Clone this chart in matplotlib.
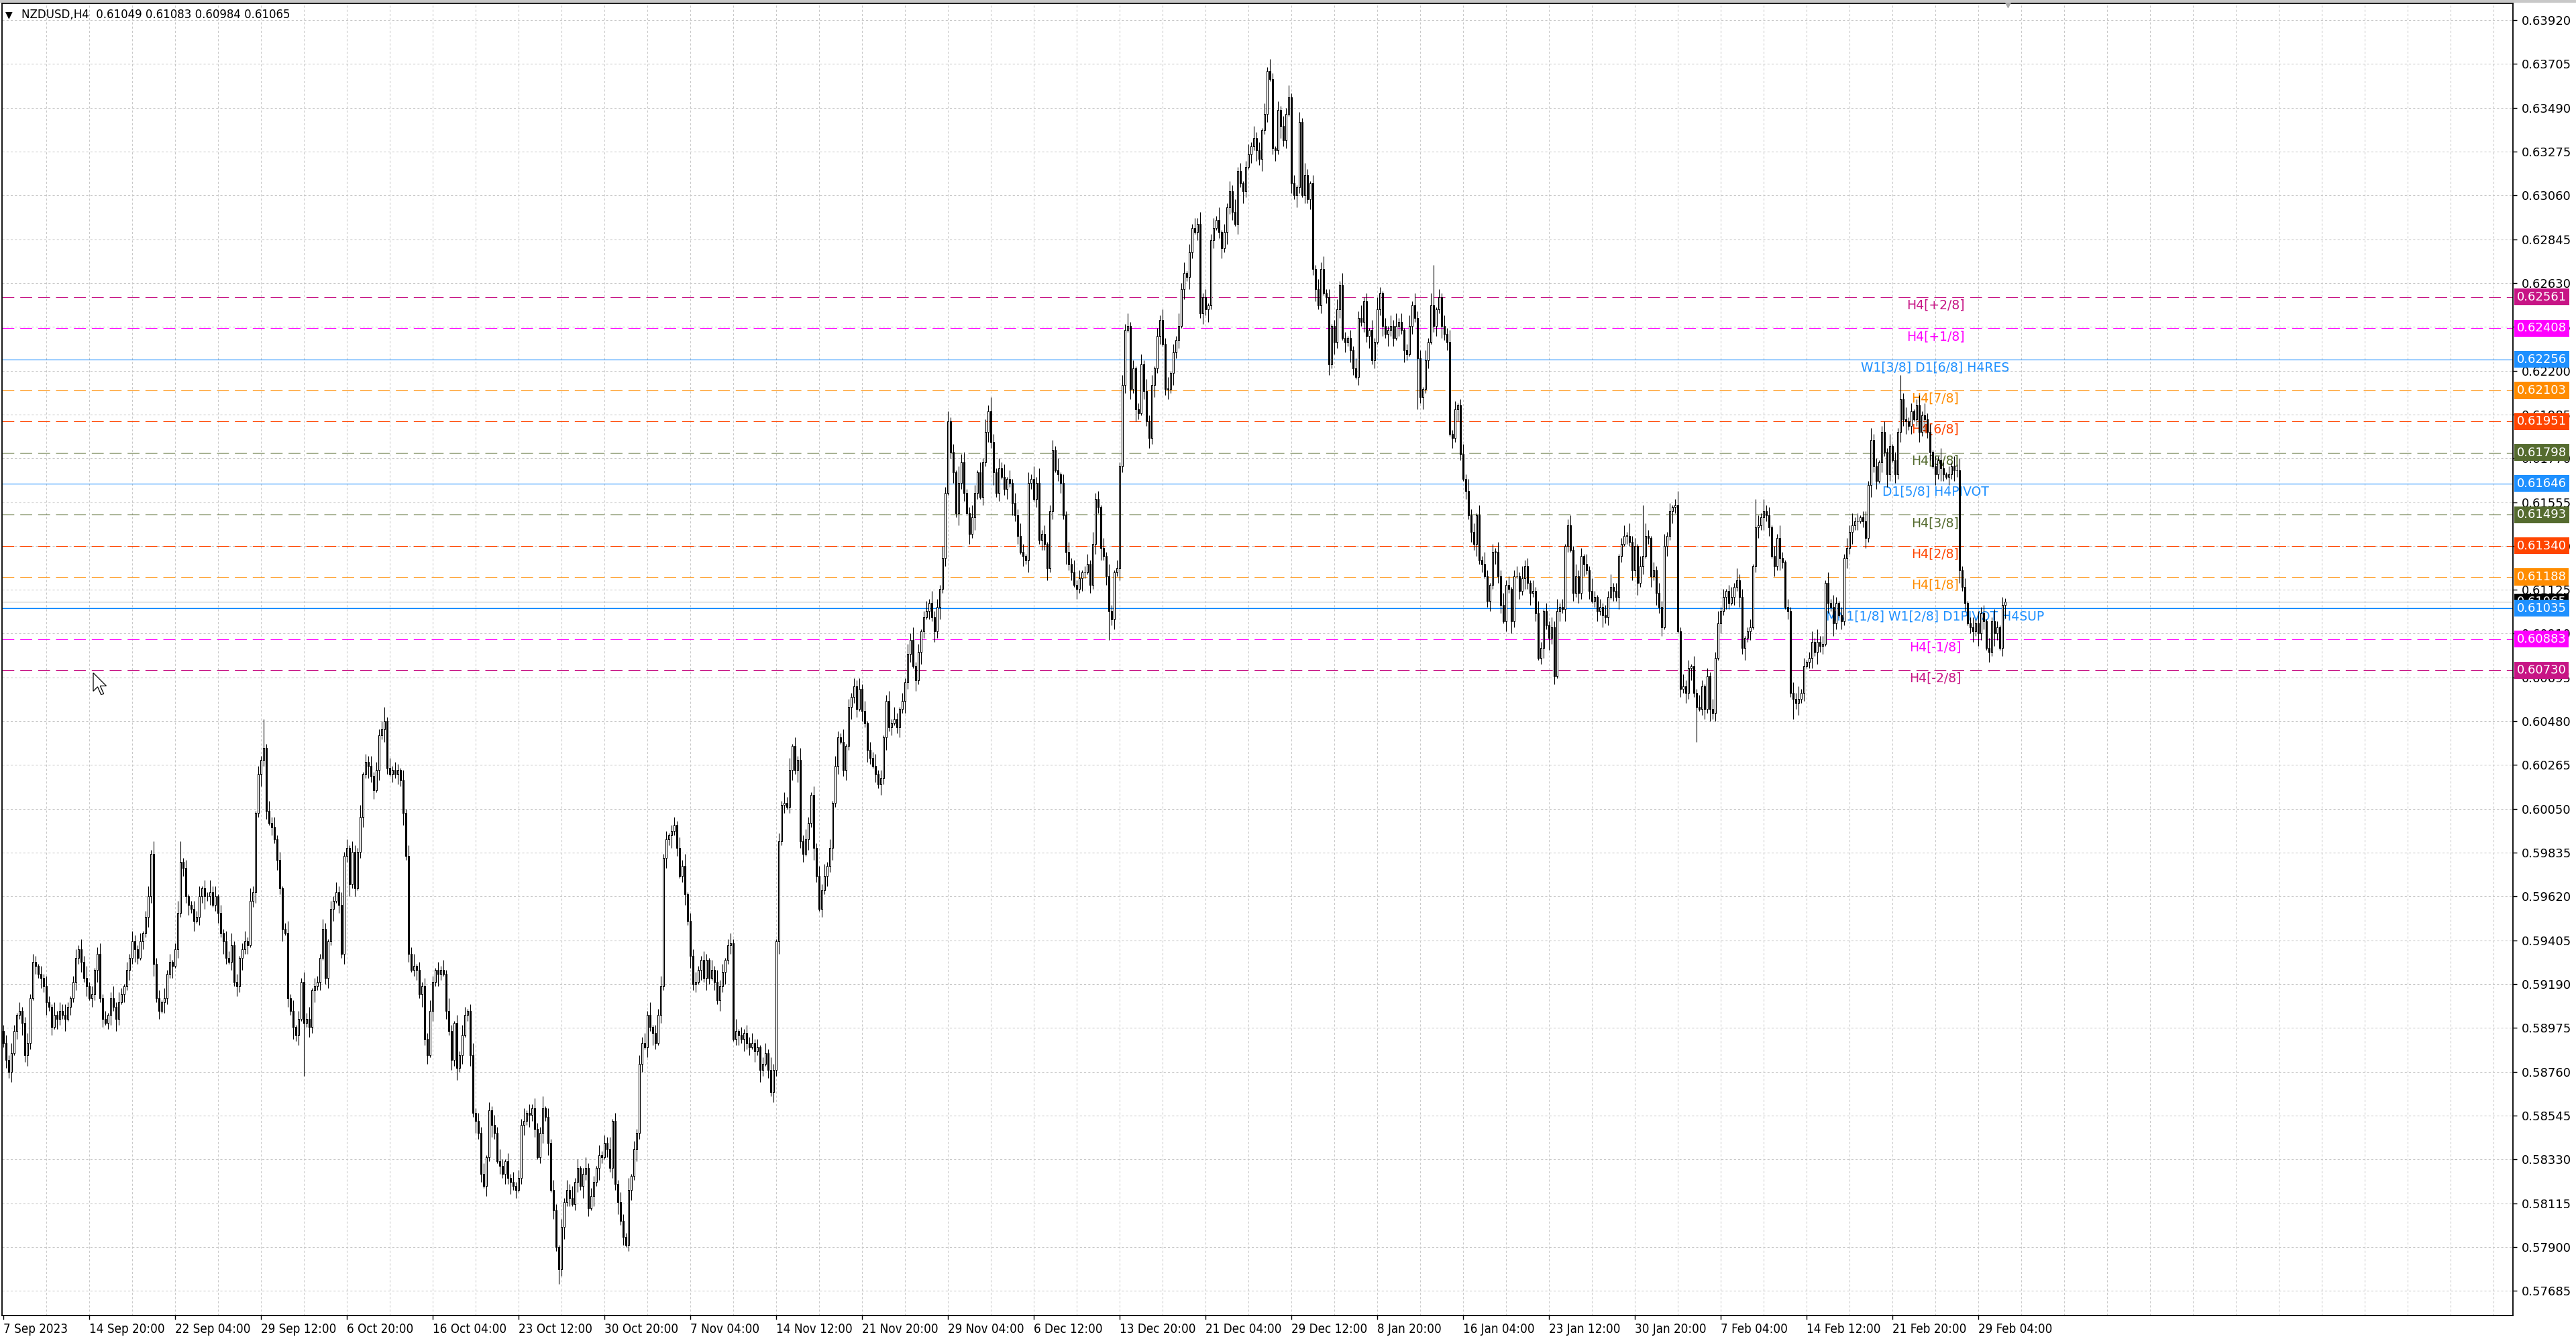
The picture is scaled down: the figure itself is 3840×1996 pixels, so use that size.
import matplotlib
matplotlib.use("Agg")
import matplotlib.pyplot as plt
import numpy as np
from matplotlib.patches import Rectangle, Polygon

# ---- data (closes in pips: 5890 -> 0.5890) ----
SYMBOL = "NZDUSD,H4"
FIRST_OPEN = 0.5896
LAST_BAR = (0.61049, 0.61083, 0.60984, 0.61065)  # O H L C of the live bar

CLOSE_PIPS = [
    5890, 5882, 5876, 5885, 5896, 5904, 5906, 5900, 5884, 5890,
    5912, 5930, 5928, 5924, 5922, 5918, 5910, 5908, 5898, 5904,
    5902, 5906, 5904, 5902, 5908, 5912, 5920, 5932, 5936, 5930,
    5922, 5918, 5912, 5914, 5926, 5934, 5912, 5902, 5900, 5904,
    5912, 5908, 5902, 5910, 5914, 5918, 5926, 5932, 5940, 5936,
    5932, 5940, 5944, 5952, 5962, 5983, 5929, 5912, 5906, 5910,
    5912, 5924, 5930, 5928, 5936, 5954, 5979, 5976, 5962, 5958,
    5956, 5950, 5952, 5962, 5966, 5962, 5962, 5964, 5958, 5962,
    5954, 5944, 5940, 5932, 5930, 5938, 5920, 5918, 5932, 5936,
    5940, 5938, 5960, 5964, 6003, 6022, 6029, 6035, 6004, 5998,
    5996, 5990, 5980, 5966, 5946, 5944, 5912, 5906, 5898, 5894,
    5902, 5920, 5900, 5902, 5898, 5916, 5918, 5920, 5932, 5946,
    5922, 5940, 5956, 5960, 5964, 5958, 5934, 5982, 5986, 5968,
    5984, 5966, 5984, 6001, 6022, 6028, 6026, 6021, 6014, 6024,
    6041, 6044, 6048, 6025, 6022, 6024, 6022, 6024, 6019, 6003,
    5982, 5934, 5926, 5928, 5926, 5914, 5918, 5892, 5884, 5906,
    5920, 5926, 5924, 5926, 5924, 5906, 5896, 5882, 5900, 5878,
    5884, 5894, 5904, 5906, 5884, 5856, 5852, 5846, 5826, 5820,
    5834, 5857, 5850, 5846, 5832, 5830, 5826, 5832, 5824, 5822,
    5820, 5818, 5824, 5850, 5852, 5856, 5855, 5858, 5848, 5834,
    5846, 5858, 5854, 5841, 5818, 5808, 5790, 5779, 5800, 5812,
    5818, 5814, 5811, 5822, 5829, 5820, 5826, 5829, 5809, 5815,
    5822, 5829, 5835, 5834, 5841, 5838, 5829, 5852, 5821, 5812,
    5803, 5795, 5791, 5818, 5825, 5838, 5846, 5880, 5890, 5888,
    5904, 5898, 5895, 5890, 5904, 5918, 5981, 5990, 5992, 5994,
    5997, 5986, 5972, 5977, 5963, 5950, 5933, 5919, 5920, 5926,
    5931, 5922, 5931, 5922, 5926, 5920, 5911, 5918, 5925, 5931,
    5938, 5939, 5892, 5896, 5894, 5892, 5895, 5890, 5888, 5890,
    5886, 5888, 5877, 5880, 5885, 5877, 5866, 5877, 5940, 5989,
    6007, 6008, 6006, 6024, 6036, 6024, 6029, 5989, 5983, 5990,
    5998, 6012, 5986, 5972, 5956, 5965, 5972, 5977, 5986, 6008,
    6026, 6040, 6038, 6024, 6036, 6055, 6060, 6065, 6054, 6064,
    6053, 6047, 6034, 6030, 6026, 6022, 6017, 6020, 6040, 6058,
    6045, 6047, 6049, 6045, 6054, 6058, 6067, 6081, 6088, 6075,
    6068, 6082, 6092, 6099, 6102, 6106, 6099, 6092, 6104, 6113,
    6128, 6160, 6195, 6180, 6170, 6150, 6165, 6175, 6160, 6150,
    6140, 6148, 6160, 6170, 6158, 6175, 6190, 6200, 6185, 6170,
    6160, 6172, 6168, 6162, 6167, 6165, 6155, 6149, 6139, 6131,
    6129, 6127, 6165, 6167, 6157, 6165, 6137, 6140, 6135, 6123,
    6151, 6181, 6171, 6169, 6165, 6149, 6131, 6125, 6121, 6115,
    6113, 6118, 6121, 6121, 6125, 6115, 6135, 6157, 6153, 6133,
    6129, 6119, 6102, 6098, 6121, 6123, 6173, 6213, 6240, 6242,
    6211, 6221, 6201, 6199, 6223, 6210, 6195, 6187, 6213, 6221,
    6237, 6245, 6233, 6211, 6211, 6219, 6229, 6235, 6242, 6260,
    6268, 6266, 6278, 6290, 6288, 6292, 6248, 6256, 6250, 6252,
    6284, 6290, 6294, 6288, 6280, 6288, 6300, 6308, 6298, 6292,
    6318, 6312, 6308, 6320, 6326, 6330, 6334, 6328, 6324, 6338,
    6346, 6367, 6363, 6329, 6328, 6348, 6340, 6333, 6346, 6354,
    6312, 6306, 6310, 6342, 6306, 6316, 6304, 6312, 6270, 6260,
    6252, 6270, 6258, 6256, 6223, 6242, 6234, 6250, 6262, 6236,
    6234, 6236, 6230, 6221, 6217, 6246, 6244, 6254, 6237, 6240,
    6225, 6234, 6250, 6258, 6242, 6238, 6240, 6242, 6236, 6242,
    6244, 6240, 6230, 6228, 6242, 6252, 6246, 6226, 6207, 6211,
    6225, 6234, 6252, 6242, 6250, 6256, 6242, 6238, 6234, 6189,
    6187, 6201, 6203, 6179, 6167, 6161, 6149, 6141, 6135, 6149,
    6127, 6125, 6119, 6107, 6115, 6131, 6131, 6119, 6105, 6097,
    6115, 6113, 6097, 6119, 6119, 6112, 6118, 6124, 6116, 6111,
    6112, 6101, 6079, 6084, 6102, 6095, 6089, 6094, 6070, 6102,
    6104, 6103, 6134, 6144, 6132, 6111, 6119, 6111, 6129, 6125,
    6122, 6112, 6107, 6109, 6102, 6104, 6100, 6099, 6109, 6114,
    6112, 6109, 6129, 6135, 6139, 6139, 6136, 6122, 6134, 6116,
    6124, 6129, 6139, 6138, 6119, 6122, 6111, 6104, 6094, 6134,
    6139, 6151, 6153, 6154, 6092, 6064, 6065, 6062, 6074, 6075,
    6062, 6055, 6054, 6065, 6054, 6070, 6054, 6052, 6079, 6096,
    6102, 6109, 6112, 6106, 6109, 6114, 6117, 6109, 6084, 6089,
    6092, 6094, 6124, 6143, 6144, 6148, 6151, 6149, 6143, 6129,
    6124, 6138, 6128, 6126, 6104, 6102, 6062, 6059, 6057, 6059,
    6062, 6075, 6077, 6079, 6087, 6082, 6087, 6085, 6086, 6116,
    6106, 6104, 6096, 6106, 6100, 6097, 6128, 6133, 6141, 6144,
    6146, 6146, 6148, 6146, 6138, 6164, 6186, 6173, 6166, 6175,
    6190, 6180, 6169, 6183, 6176, 6169, 6190, 6206, 6196, 6195,
    6193, 6200, 6196, 6203, 6190, 6198, 6196, 6190, 6180, 6173,
    6169, 6176, 6172, 6169, 6168, 6169, 6173, 6171, 6171, 6122,
    6114, 6106, 6096, 6094, 6092, 6096, 6091, 6101, 6097, 6084,
    6082, 6097, 6091, 6094, 6084, 6105,
]

# wick lengths in pips beyond the body, one base-36 char per bar
UPPER_WICK = "".join([
    "34253142352431425316243521342536241352413625314253",
    "2413526341524136a24124351426351425362413526314" "2e25",
    "35241362514253614325314253624153261435243472524315",
    "25361424353142526314254136243514253631425243614253",
    "36142531425362413524315243614253261424352614352413",
    "42536143522431526341352614243524135263142536142635",
    "31425362415326142435251436241352631425362413526342",
    "63524184523641526374253614253641526372413526142536",
    "24135263415263142536241352635142536142635142536241",
    "35261425362413526341526314253624152631425362413526",
    "31425362415263142536241352634152" "6k14253624135263" "41",
    "52631425362413526341526314253624135263415263142536",
    "24135263415p63142536241372634152631425362413526341",
    "241e5263415263142536241352634152631425362413526341",
    "3526142c36241352634152631425362413526341526314" "2536",
])
LOWER_WICK = "".join([
    "24351426353142536241532614243525143624135263142536",
    "31425362415326142435251436241352631425362413526341",
    "425361426351q25362413526142536241352634152631425" "36",
    "24135263415263142536241352634152631425362413526341",
    "35261427362413526341526314253624135263415263142536",
    "24135263415263142536241352634152631425362413526341",
    "52631425362413526341526314253624135263415263142536",
    "24135263415263142536241352634152631425362413526341",
    "526314253624e3526341526314253624135263415263142536",
    "24135263415263142536241352634152631425362413526341",
    "5263142536241352634152631" "42p362413526341526314253" "6",
    "24135263415263142536241352634152631425362413526341",
    "52631425362413526341526314253" "62h13526341526314253" "6",
    "24135263415263142a36241352634152631425362413526341",
    "52631425362413526341526314253624135263415263142536",
])

TIME_LABELS = [
    "7 Sep 2023", "14 Sep 20:00", "22 Sep 04:00", "29 Sep 12:00",
    "6 Oct 20:00", "16 Oct 04:00", "23 Oct 12:00", "30 Oct 20:00",
    "7 Nov 04:00", "14 Nov 12:00", "21 Nov 20:00", "29 Nov 04:00",
    "6 Dec 12:00", "13 Dec 20:00", "21 Dec 04:00", "29 Dec 12:00",
    "8 Jan 20:00", "16 Jan 04:00", "23 Jan 12:00", "30 Jan 20:00",
    "7 Feb 04:00", "14 Feb 12:00", "21 Feb 20:00", "29 Feb 04:00",
]
BARS_PER_LABEL = 32

PRICE_TICKS = [
    0.63920, 0.63705, 0.63490, 0.63275, 0.63060, 0.62845, 0.62630,
    0.62415, 0.62200, 0.61985, 0.61770, 0.61555, 0.61340, 0.61125,
    0.60910, 0.60695, 0.60480, 0.60265, 0.60050, 0.59835, 0.59620,
    0.59405, 0.59190, 0.58975, 0.58760, 0.58545, 0.58330, 0.58115,
    0.57900, 0.57685,
]

LEVEL_PRICES = [0.62561, 0.62408, 0.62256, 0.62103, 0.61951, 0.61798, 0.61646,
                0.61493, 0.61340, 0.61188, 0.61035, 0.60883, 0.60730]
LEVEL_NAMES = ["H4[+2/8]", "H4[+1/8]", "W1[3/8] D1[6/8] H4RES", "H4[7/8]",
               "H4[6/8]", "H4[5/8]", "D1[5/8] H4PIVOT", "H4[3/8]", "H4[2/8]",
               "H4[1/8]", "MN1[1/8] W1[2/8] D1PIVOT H4SUP", "H4[-1/8]", "H4[-2/8]"]
LEVEL_COLORS = ["#C71585", "#FF00FF", "#1E90FF", "#FF8C00", "#FF4500", "#556B2F",
                "#1E90FF", "#556B2F", "#FF4500", "#FF8C00", "#1E90FF", "#FF00FF",
                "#C71585"]
LEVEL_SOLID = [False, False, True, False, False, False, True,
               False, False, False, True, False, False]

# ---- build OHLC ----
closes = np.array(CLOSE_PIPS, dtype=float) / 10000
opens = np.concatenate([[FIRST_OPEN], closes[:-1]])
n_hist = len(closes)
up_w = np.array([int(ch, 36) for ch in UPPER_WICK[:n_hist]]) / 10000
lo_w = np.array([int(ch, 36) for ch in LOWER_WICK[:n_hist]]) / 10000
highs = np.maximum(opens, closes) + up_w
lows = np.minimum(opens, closes) - lo_w

o = np.append(opens, LAST_BAR[0])
h = np.append(highs, LAST_BAR[1])
l = np.append(lows, LAST_BAR[2])
c = np.append(closes, LAST_BAR[3])
x = np.arange(len(c))

# ---- figure ----
W, H = 3840, 1996
fig = plt.figure(figsize=(W / 100, H / 100), dpi=100)
fig.patch.set_facecolor("white")
ax_left, ax_right, ax_top, ax_bot = 3, 3746, 5, 1961
ax = fig.add_axes([ax_left / W, 1 - ax_bot / H, (ax_right - ax_left) / W, (ax_bot - ax_top) / H])
fig.patches.append(Rectangle((0, 1 - 3 / H), 1, 3 / H, transform=fig.transFigure,
                             color="#C8C8C8", zorder=0))

px_per_bar = 4.0
ax.set_xlim(-0.5, -0.5 + (ax_right - ax_left) / px_per_bar)
ax.set_ylim(0.575645, 0.64002)

# grid
grid_kw = dict(color="#C8C8C8", linewidth=0.75, linestyle=(0, (3, 3)), zorder=1)
for p in PRICE_TICKS:
    ax.axhline(p, **grid_kw)
for gx in range(16, 936, 16):
    ax.axvline(gx, **grid_kw)

# levels
for price, name, col, solid in zip(LEVEL_PRICES, LEVEL_NAMES, LEVEL_COLORS, LEVEL_SOLID):
    if solid:
        lw = 1.5 if "SUP" in name else 0.8
        ax.axhline(price, color=col, linewidth=lw, zorder=2)
    else:
        ax.axhline(price, color=col, linewidth=0.8, linestyle=(0, (16, 8)), zorder=2)
    ax.annotate(name, xy=(720, price), xytext=(0, -2), textcoords="offset points",
                ha="center", va="top", color=col, fontsize=13.5, zorder=2.5)
ax.axhline(LAST_BAR[3], color="#C0C0C0", linewidth=0.8, zorder=2)

# candles
ax.vlines(x, l, h, colors="black", linewidth=0.8, zorder=3)
body_lo = np.minimum(o, c)
body_h = np.maximum(np.abs(c - o), 0.000015)
ax.bar(x, body_h, bottom=body_lo, width=0.55,
       color=np.where(c >= o, "white", "black"), edgecolor="black",
       linewidth=0.75, zorder=4)

# chart shift marker
ax.plot([len(c)], [0.64002], marker="v", color="#A8A8A8", markersize=9,
        clip_on=False, zorder=6)

# axes styling
for s in ax.spines.values():
    s.set_color("black")
    s.set_linewidth(1.3)
ax.yaxis.tick_right()
ax.set_yticks(PRICE_TICKS)
ax.set_yticklabels([f"{p:.5f}" for p in PRICE_TICKS])
ax.tick_params(axis="y", direction="out", length=4, width=1, pad=5, labelsize=13,
               colors="black")
ax.set_xticks([i * BARS_PER_LABEL for i in range(len(TIME_LABELS))])
ax.set_xticklabels(TIME_LABELS)
ax.tick_params(axis="x", direction="out", length=4, width=1, pad=4, labelsize=13.5)
for lbl in ax.get_xticklabels():
    lbl.set_horizontalalignment("left")
    lbl.set_fontstretch("condensed")

# price boxes on the right scale
box_kw = dict(transform=ax.get_yaxis_transform(), ha="left", va="center",
              fontsize=13, color="white", clip_on=False, zorder=10)
ax.text(1.0016, LAST_BAR[3], f"{LAST_BAR[3]:.5f}",
        bbox=dict(boxstyle="square,pad=0.2", fc="black", ec="none"), **box_kw)
for price, col in zip(LEVEL_PRICES, LEVEL_COLORS):
    ax.text(1.0016, price, f"{price:.5f}",
            bbox=dict(boxstyle="square,pad=0.2", fc=col, ec="none"), **box_kw)

# header
fig.text(8 / W, 1 - 22 / H, "\u25BC", fontsize=10, va="center", ha="left", color="black")
header = SYMBOL + "  " + " ".join(f"{v:.5f}" for v in LAST_BAR)
fig.text(32 / W, 1 - 22 / H, header, fontsize=12, va="center", ha="left", color="black")

# mouse pointer left on the screenshot
tip_x, tip_y, k = 139, 1003, 1.3
arrow = [(0, 0), (0, 21), (5, 16), (9, 25), (12, 24), (8, 15), (15, 15)]
fig.patches.append(Polygon([((tip_x + k * dx) / W, 1 - (tip_y + k * dy) / H) for dx, dy in arrow],
                           closed=True, transform=fig.transFigure, fc="white", ec="black",
                           lw=0.9, zorder=20))

fig.savefig("out.png", dpi=100)
